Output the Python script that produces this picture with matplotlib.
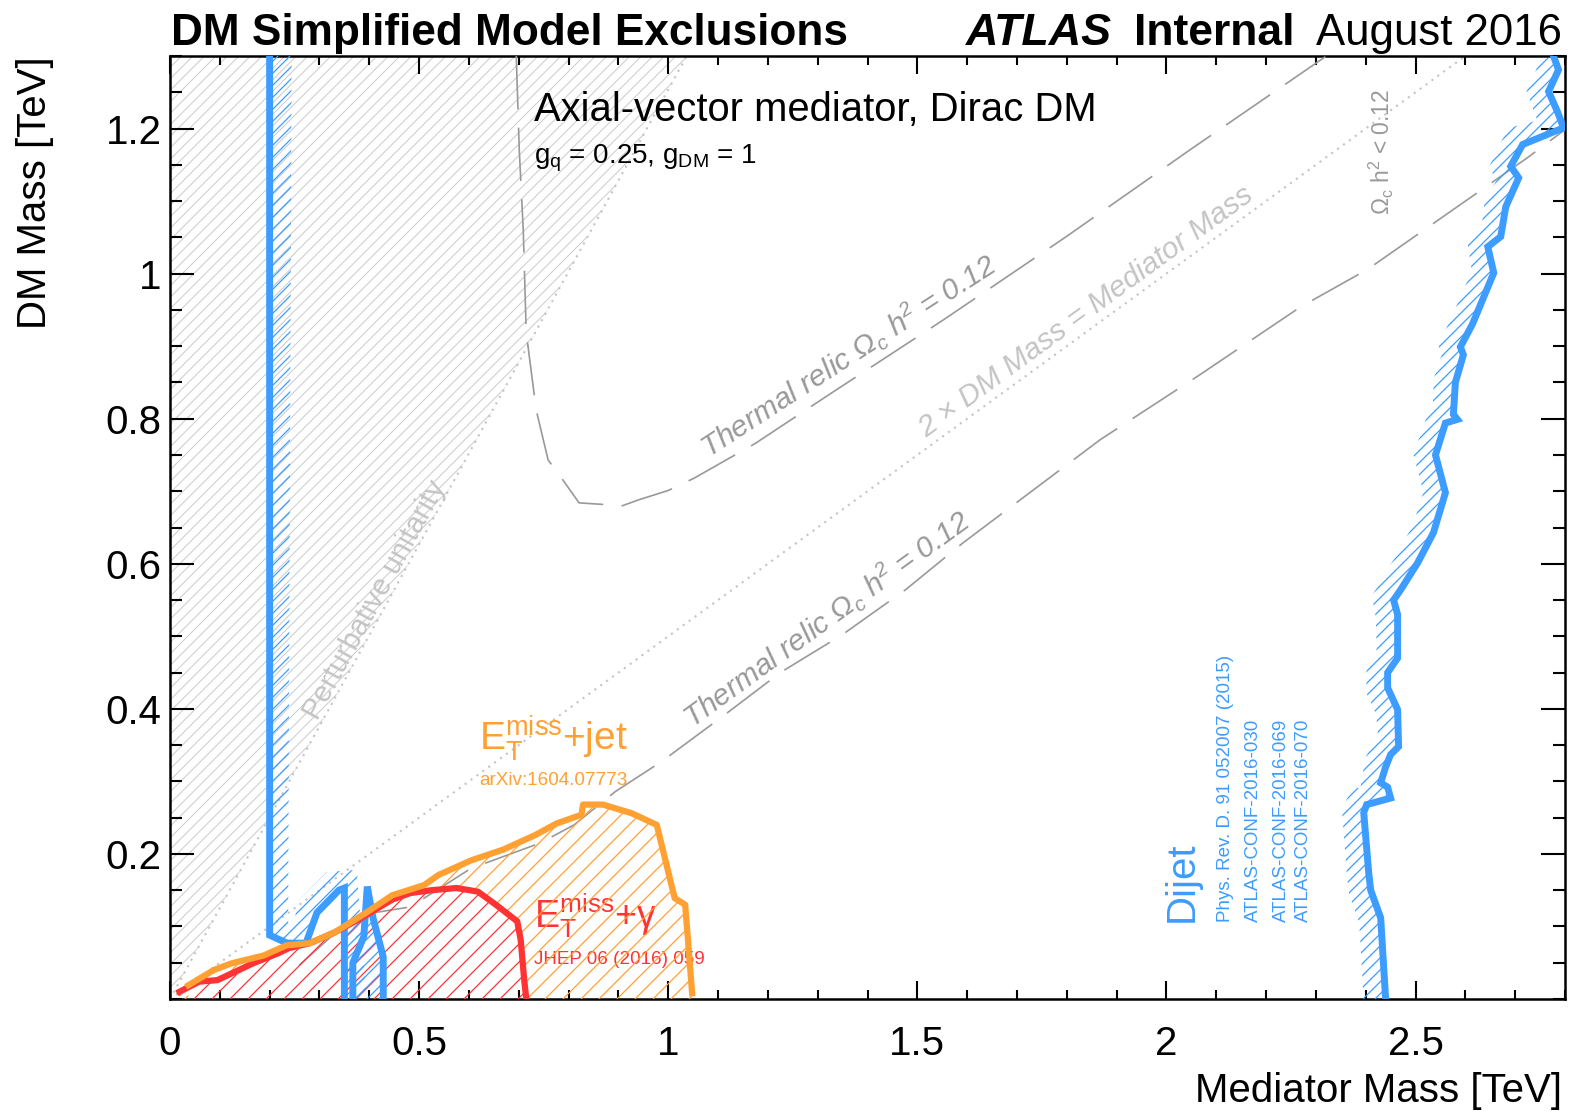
import numpy as np
import matplotlib
matplotlib.use('Agg')
import matplotlib.pyplot as plt
from matplotlib.patches import PathPatch
from matplotlib.path import Path
from matplotlib.collections import LineCollection
from matplotlib.transforms import IdentityTransform

plt.rcParams['font.family'] = ['Liberation Sans', 'DejaVu Sans']
plt.rcParams['mathtext.fontset'] = 'custom'
plt.rcParams['mathtext.rm'] = 'Liberation Sans'
plt.rcParams['mathtext.it'] = 'Liberation Sans:italic'
plt.rcParams['mathtext.bf'] = 'Liberation Sans:bold'
plt.rcParams['mathtext.default'] = 'regular'

# ---------------- data (TeV) ----------------
# Dijet: high-mass edge
dijet_hi_x = [2.440, 2.430, 2.410, 2.406, 2.396, 2.402, 2.450, 2.444, 2.430, 2.440, 2.450, 2.466,
              2.464, 2.444, 2.444, 2.464, 2.464, 2.456, 2.470, 2.504, 2.536, 2.560, 2.540, 2.560,
              2.584, 2.576, 2.580, 2.596, 2.590, 2.614, 2.657, 2.645, 2.671, 2.681, 2.707, 2.691,
              2.715, 2.797, 2.785, 2.767, 2.787, 2.777]
dijet_hi_y = [0.000, 0.112, 0.150, 0.174, 0.257, 0.268, 0.277, 0.292, 0.298, 0.320, 0.337, 0.348,
              0.399, 0.429, 0.450, 0.470, 0.530, 0.550, 0.564, 0.601, 0.643, 0.698, 0.750, 0.794,
              0.799, 0.806, 0.850, 0.888, 0.899, 0.930, 1.001, 1.037, 1.051, 1.092, 1.132, 1.148,
              1.178, 1.201, 1.223, 1.251, 1.281, 1.300]
# Dijet: low-mass edge (incl. low-mass island 1)
dijet_lo_x = [0.200, 0.200, 0.235, 0.273, 0.295, 0.339, 0.350, 0.350]
dijet_lo_y = [1.300, 0.088, 0.077, 0.077, 0.119, 0.150, 0.153, 0.000]
# Dijet: low-mass island 2
dijet_is_x = [0.367, 0.367, 0.389, 0.396, 0.407, 0.428, 0.428]
dijet_is_y = [0.000, 0.050, 0.086, 0.155, 0.113, 0.058, 0.000]

# E_T^miss + jet
monojet_x = [0.037, 0.088, 0.123, 0.188, 0.234, 0.281, 0.331, 0.396, 0.446, 0.510, 0.539, 0.604,
             0.669, 0.733, 0.776, 0.826, 0.829, 0.869, 0.927, 0.977, 1.013, 1.034, 1.041, 1.048]
monojet_y = [0.019, 0.040, 0.049, 0.060, 0.074, 0.077, 0.092, 0.120, 0.143, 0.157, 0.171, 0.191,
             0.206, 0.226, 0.242, 0.254, 0.268, 0.268, 0.256, 0.240, 0.139, 0.130, 0.070, 0.008]

# E_T^miss + gamma
monophoton_x = [0.019, 0.059, 0.095, 0.123, 0.166, 0.217, 0.238, 0.281, 0.331, 0.382, 0.446,
                0.482, 0.525, 0.575, 0.618, 0.654, 0.697, 0.704, 0.711, 0.715]
monophoton_y = [0.010, 0.024, 0.026, 0.035, 0.049, 0.063, 0.070, 0.077, 0.092, 0.111, 0.137,
                0.146, 0.150, 0.153, 0.148, 0.130, 0.107, 0.081, 0.026, 0.001]

# Thermal relic Omega_c h^2 = 0.12 (upper and lower branch)
relic_up_x = [0.695, 0.701, 0.709, 0.715, 0.735, 0.759, 0.785, 0.821, 0.908, 0.940, 1.000, 1.052,
              1.175, 1.329, 1.554, 1.799, 2.048, 2.319]
relic_up_y = [1.300, 1.171, 1.061, 0.919, 0.812, 0.743, 0.719, 0.684, 0.680, 0.688, 0.701, 0.718,
              0.766, 0.836, 0.937, 1.051, 1.171, 1.299]
relic_lo_x = [0.26, 0.33, 0.41, 0.474, 0.51, 0.604, 0.743, 0.811, 0.894, 0.988, 1.108, 1.225,
              1.349, 1.476, 1.592, 1.867, 2.068, 2.269, 2.404, 2.596, 2.725, 2.801]
relic_lo_y = [0.047, 0.09, 0.119, 0.126, 0.139, 0.18, 0.215, 0.24, 0.286, 0.328, 0.389, 0.450,
              0.502, 0.564, 0.629, 0.771, 0.861, 0.954, 1.006, 1.098, 1.160, 1.199]

# reference lines
unitarity_x = [0.0, 1.037]
unitarity_y = [0.0, 1.300]
twodm_x = [0.0, 2.600]
twodm_y = [0.0, 1.300]

xticks = [0, 0.5, 1, 1.5, 2, 2.5]
xticklabels = ['0', '0.5', '1', '1.5', '2', '2.5']
yticks = [0.2, 0.4, 0.6, 0.8, 1.0, 1.2]
yticklabels = ['0.2', '0.4', '0.6', '0.8', '1', '1.2']

BLUE = '#3d9cff'
RED = '#ff3333'
ORANGE = '#ffa033'
GRAY = '#999999'
LGRAY = '#c4c4c4'

W, H = 1572, 1111
fig = plt.figure(figsize=(W / 100, H / 100), dpi=100)
ax = fig.add_axes([170 / W, 1 - 999 / H, (1565 - 170) / W, (999 - 56) / H])
ax.set_xlim(0, 2.8)
ax.set_ylim(0, 1.3)


def band_polygon(xs, ys, width_px, side=1):
    pts = ax.transData.transform(np.column_stack([xs, ys]))
    d = np.diff(pts, axis=0)
    n = np.column_stack([-d[:, 1], d[:, 0]])
    n /= np.linalg.norm(n, axis=1)[:, None]
    vn = np.zeros_like(pts)
    vn[0] = n[0]
    vn[-1] = n[-1]
    vn[1:-1] = n[:-1] + n[1:]
    vn[1:-1] /= np.linalg.norm(vn[1:-1], axis=1)[:, None]
    off = pts + side * width_px * vn
    poly = np.vstack([pts, off[::-1]])
    return ax.transData.inverted().transform(poly)


def signed_area(p):
    p = np.asarray(p)
    x, y = p[:, 0], p[:, 1]
    return 0.5 * np.sum(x * np.roll(y, -1) - np.roll(x, -1) * y)


def make_path(outer, holes=()):
    outer = np.asarray(outer, float)
    verts, codes = [], []
    for ring, want_ccw in [(outer, True)] + [(np.asarray(h, float), False) for h in holes]:
        r = ring
        if (signed_area(r) > 0) != want_ccw:
            r = r[::-1]
        verts += list(r) + [r[0]]
        codes += [Path.MOVETO] + [Path.LINETO] * (len(r) - 1) + [Path.CLOSEPOLY]
    return Path(verts, codes)


def hatch(path, color, spacing, lw, offset=0.0, zorder=1):
    patch = PathPatch(path, fc='none', ec='none', transform=ax.transData)
    ax.add_patch(patch)
    bb = ax.bbox
    Wd, Hd = bb.width, bb.height
    cs = np.arange(-Hd + offset, Wd, spacing)
    segs = [[(bb.x0 + c, bb.y0), (bb.x0 + c + Hd, bb.y1)] for c in cs]
    lc = LineCollection(segs, colors=color, linewidths=lw, transform=IdentityTransform(),
                        zorder=zorder)
    lc.set_clip_path(patch)
    ax.add_collection(lc, autolim=False)


# perturbative unitarity region
hatch(make_path([(unitarity_x[0], unitarity_y[0]), (unitarity_x[1], unitarity_y[1]), (0, 1.3)]),
      '#cacaca', 11.5, 0.7)
ax.plot(unitarity_x, unitarity_y, color=LGRAY, lw=1.5, ls=(0, (1, 2.5)), zorder=2)
ax.plot(twodm_x, twodm_y, color=LGRAY, lw=1.5, ls=(0, (1, 2.5)), zorder=2)

# relic lines
for rx, ry in [(relic_up_x, relic_up_y), (relic_lo_x, relic_lo_y)]:
    ax.plot(rx, ry, color=GRAY, lw=1.2, ls=(0, (32, 11)), zorder=3)

# hatched regions
mj_poly = list(zip(monojet_x, monojet_y)) + [(monojet_x[-1], 0), (monojet_x[0], 0)]
mp_poly = list(zip(monophoton_x, monophoton_y)) + [(monophoton_x[-1], 0), (monophoton_x[0], 0)]
hatch(make_path(mj_poly, [mp_poly]), ORANGE, 18, 0.9, offset=4, zorder=4)
hatch(make_path(mp_poly), RED, 18, 0.9, offset=13, zorder=4)
hatch(make_path(band_polygon(dijet_hi_x, dijet_hi_y, 22, 1)), BLUE, 12, 0.9, zorder=4)
hatch(make_path(band_polygon(dijet_lo_x, dijet_lo_y, 22, 1)), BLUE, 12, 0.9, zorder=4)
hatch(make_path(band_polygon(dijet_is_x, dijet_is_y, 22, -1)), BLUE, 12, 0.9, zorder=4)

# contours
ax.plot(dijet_hi_x, dijet_hi_y, color=BLUE, lw=5, zorder=6, solid_joinstyle='miter')
ax.plot(dijet_lo_x, dijet_lo_y, color=BLUE, lw=5, zorder=6, solid_joinstyle='miter')
ax.plot(dijet_is_x, dijet_is_y, color=BLUE, lw=5, zorder=6, solid_joinstyle='miter')
ax.plot(monophoton_x, monophoton_y, color=RED, lw=4.5, zorder=7)
ax.plot(monojet_x, monojet_y, color=ORANGE, lw=4.5, zorder=8)


def disp_angle(x0, y0, x1, y1):
    p = ax.transData.transform([(x0, y0), (x1, y1)])
    return np.degrees(np.arctan2(p[1, 1] - p[0, 1], p[1, 0] - p[0, 0]))


# texts inside
ax.text(0.731, 1.211, 'Axial-vector mediator, Dirac DM', fontsize=28.8, ha='left', va='baseline')
ax.text(0.731, 1.152, r'g$_{\mathrm{q}}$ = 0.25, g$_{\mathrm{DM}}$ = 1', fontsize=20,
        ha='left', va='baseline')

RT = r'Thermal relic $\Omega_{c}$ $h^{2}$ = 0.12'
a_up = disp_angle(1.052, 0.718, 1.799, 1.051)
ax.text(1.380, 0.868, RT, fontsize=21.5, color=GRAY, style='italic', rotation=a_up,
        rotation_mode='anchor', ha='center', va='bottom')
a_lo = disp_angle(0.988, 0.328, 1.592, 0.629)
ax.text(1.338, 0.505, RT, fontsize=21.5, color=GRAY, style='italic', rotation=a_lo,
        rotation_mode='anchor', ha='center', va='bottom')
a_2dm = disp_angle(twodm_x[0], twodm_y[0], twodm_x[1], twodm_y[1])
ax.text(1.855, 0.932, '2 × DM Mass = Mediator Mass', fontsize=21.5, color=LGRAY,
        style='italic', rotation=a_2dm, rotation_mode='anchor', ha='center', va='bottom')
a_u = disp_angle(unitarity_x[0], unitarity_y[0], unitarity_x[1], unitarity_y[1])
ax.text(0.426, 0.545, 'Perturbative unitarity', fontsize=21, color=LGRAY,
        rotation=a_u, rotation_mode='anchor', ha='center', va='baseline')
ax.text(2.432, 1.168, r'$\Omega_{c}$ h$^{2}$ < 0.12', fontsize=16.5, color=GRAY,
        rotation=90, rotation_mode='anchor', ha='center', va='center')

ax.text(0.621, 0.343, r'E$_{\mathrm{T}}^{\mathrm{miss}}$+jet', fontsize=28, color=ORANGE,
        ha='left', va='baseline')
ax.text(0.621, 0.301, 'arXiv:1604.07773', fontsize=13.6, color=ORANGE, ha='left', va='center')
ax.text(0.731, 0.099, r'E$_{\mathrm{T}}^{\mathrm{miss}}$+γ', fontsize=27, color=RED,
        ha='left', va='baseline')
ax.text(0.731, 0.054, 'JHEP 06 (2016) 059', fontsize=13.6, color=RED, ha='left', va='center')

ax.text(2.030, 0.106, 'Dijet', fontsize=29, color=BLUE, rotation=90, ha='center', va='bottom')
for xx, s in [(2.119, 'Phys. Rev. D. 91 052007 (2015)'), (2.175, 'ATLAS-CONF-2016-030'),
              (2.230, 'ATLAS-CONF-2016-069'), (2.276, 'ATLAS-CONF-2016-070')]:
    ax.text(xx, 0.106, s, fontsize=13.5, color=BLUE, rotation=90, ha='center', va='bottom')

# axes styling
ax.set_xticks(xticks)
ax.set_xticklabels(xticklabels)
ax.set_yticks(yticks)
ax.set_yticklabels(yticklabels)
ax.set_xticks(np.arange(0, 2.81, 0.1), minor=True)
ax.set_yticks(np.arange(0, 1.31, 0.05), minor=True)
ax.tick_params(axis='both', which='both', direction='in', top=True, right=True, width=1.5,
               labelsize=29, colors='black')
ax.tick_params(axis='x', which='major', length=13, pad=19)
ax.tick_params(axis='x', which='minor', length=6.5)
ax.tick_params(axis='y', which='major', length=17, pad=6)
ax.tick_params(axis='y', which='minor', length=8.5)
for sp in ax.spines.values():
    sp.set_linewidth(1.8)

fig.text(1562 / W, 1 - 1091 / H, 'Mediator Mass [TeV]', fontsize=29, ha='right', va='center')
fig.text(35 / W, 1 - 56 / H, 'DM Mass [TeV]', fontsize=29, rotation=90, ha='center', va='top')

# header
ty = 1 - 45 / H
fig.text(171 / W, ty, 'DM Simplified Model Exclusions', fontsize=31.8, fontweight='bold',
         ha='left', va='baseline')
fig.text(966 / W, ty, 'ATLAS', fontsize=32.3, fontweight='bold', style='italic',
         ha='left', va='baseline')
fig.text(1134 / W, ty, 'Internal', fontsize=32, fontweight='bold', ha='left', va='baseline')
fig.text(1562 / W, ty, 'August 2016', fontsize=31.5, ha='right', va='baseline')

fig.savefig('out.png', dpi=100)
